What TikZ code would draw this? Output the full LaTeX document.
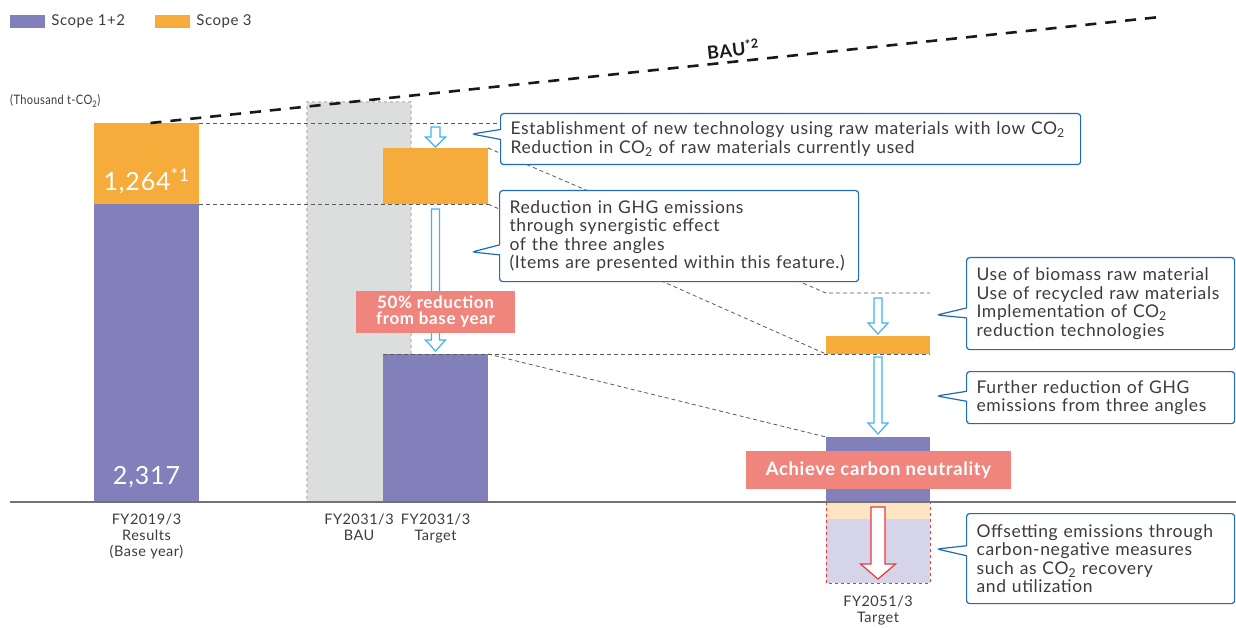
\documentclass[tikz,border=0pt]{standalone}
\usepackage{fontspec}
\setmainfont{Lato}[LetterSpace=3.5]
\usepackage{tikz}
\usetikzlibrary{positioning,calc,shapes.callouts}

\definecolor{scopeA}{RGB}{129,128,187}
\definecolor{scopeB}{RGB}{245,172,59}
\definecolor{baugray}{RGB}{220,221,221}
\definecolor{bauedge}{RGB}{200,201,201}
\definecolor{tagred}{RGB}{240,133,126}
\definecolor{calloutblue}{RGB}{30,107,184}
\definecolor{arrowblue}{RGB}{64,180,236}
\definecolor{offred}{RGB}{232,56,61}
\definecolor{offorange}{RGB}{253,229,195}
\definecolor{offlav}{RGB}{213,212,232}
\definecolor{txtgray}{RGB}{62,58,57}

\newcommand{\cotwo}{CO\textsubscript{2}}
% hollow block arrow pointing down: style, from, to, half shaft, half head, head length
\newcommand{\hollowdown}[6]{%
  \draw[#1] let \p1=(#2), \p2=(#3) in
    (\x1-#4,\y1) -- (\x1+#4,\y1) -- (\x1+#4,\y2+#6) -- (\x1+#5,\y2+#6)
    -- (\x1,\y2) -- (\x1-#5,\y2+#6) -- (\x1-#4,\y2+#6) -- cycle;}

\begin{document}
\begin{tikzpicture}[
        x=1pt,y=-1pt,
        font=\fontsize{17.5}{18.5}\selectfont,
        bar/.style={rectangle,inner sep=0,outer sep=0,minimum width=105pt,minimum height=#1,anchor=north west},
        legbox/.style={rectangle,inner sep=0,minimum width=35pt,minimum height=13pt},
        legtxt/.style={inner sep=0,text=txtgray,font=\fontsize{15}{15}\selectfont},
        guide/.style={draw=black!65,dash pattern=on 4pt off 3pt,line width=0.8pt},
        bauline/.style={line width=2.6pt,dash pattern=on 11pt off 9pt,black!90},
        callout/.style={rectangle callout,draw=calloutblue,fill=white,line width=1.2pt,rounded corners=3pt,
            callout pointer width=10pt,inner xsep=10pt,inner ysep=0pt,align=left,anchor=north west,text=txtgray},
        tag/.style={rectangle,fill=tagred,text=white,align=center,inner sep=0,font=\bfseries\fontsize{17}{16}\selectfont},
        xlabel/.style={inner sep=0,align=center,text=txtgray,font=\fontsize{14.5}{16}\selectfont},
        numtxt/.style={inner sep=0,text=white,font=\fontsize{25}{25}\selectfont},
        bluearrow/.style={draw=arrowblue,fill=white,line width=1.2pt},
        redarrow/.style={draw=offred,fill=white,line width=1.2pt}
    ]
    \useasboundingbox (0,0) rectangle (1236,628);

    % legend
    \node[legbox,fill=scopeA] (legA) at (27.5,21.5) {};
    \node[legtxt,right=6pt of legA] (legAt) {Scope 1+2};
    \node[legbox,fill=scopeB] (legB) at (172.5,21.5) {};
    \node[legtxt,right=6pt of legB] (legBt) {Scope 3};
    \node[anchor=west,inner sep=0,text=txtgray,font=\fontsize{13}{13}\selectfont] (unit) at (10,101)
        {\scalebox{0.85}[1]{(Thousand t-\cotwo)}};

    % bars
    \node[bar=81pt,fill=scopeB] (r19o) at (94,123) {};
    \node[bar=298pt,fill=scopeA] (r19p) at (94,204) {};
    \node[bar=400pt,minimum width=104pt,fill=baugray,draw=bauedge,dashed,line width=1.2pt] (bau) at (307,102) {};
    \node[bar=56pt,fill=scopeB] (t31o) at (383,148) {};
    \node[bar=148pt,fill=scopeA] (t31p) at (383,354) {};
    \node[bar=18pt,minimum width=104pt,fill=scopeB] (t51o) at (826,336) {};
    \node[bar=65pt,minimum width=104pt,fill=scopeA] (t51p) at (826,437) {};
    \node[bar=81pt,minimum width=104pt,fill=offlav] (off) at (826,502) {};
    \fill[offorange] (off.north west) rectangle ([yshift=-17pt]off.north east);
    \draw[offred,dashed,line width=1pt] (off.north west) rectangle (off.south east);

    \draw[black!55,line width=1.2pt] (10,502) -- (1236,502);

    \node[numtxt] (n1264) at ([yshift=-18pt]r19o.center) {1,264\textsuperscript{*1}};
    \node[numtxt] (n2317) at ([yshift=25pt]r19p.south) {2,317};

    % BAU trend
    \coordinate (bauEnd) at (1160,17);
    \draw[bauline] ([xshift=4pt]r19o.north) -- (bauEnd);
    \node[rotate=6,inner sep=0,font=\bfseries\fontsize{18}{18}\selectfont,text=black!90] (baulbl) at (733,49) {BAU\textsuperscript{*2}};

    % guide lines
    \coordinate (lvlA) at (826,293);
    \draw[guide] (r19o.north east) -- (r19o.north east -| 500,0);
    \draw[guide] (r19o.south east) -- (t31o.south east);
    \draw[guide] (t31o.north east) -- (lvlA) -- (t51o.east |- lvlA);
    \draw[guide] (t31o.south east) -- (t51o.south west);
    \draw[guide] (t31p.north west) -- (t51o.south east);
    \draw[guide] (t31p.north east) -- (t51p.north west);

    % reduction arrows
    \coordinate (a1s) at ([yshift=-4pt]t31o.north |- r19o.north);
    \coordinate (a3s) at ([yshift=-5pt]t51o.north |- lvlA);
    \hollowdown{bluearrow}{a1s}{[yshift=1pt]t31o.north}{4.5pt}{10pt}{10pt}
    \hollowdown{bluearrow}{[yshift=-5pt]t31o.south}{[yshift=3pt]t31p.north}{4pt}{10pt}{11pt}
    \hollowdown{bluearrow}{a3s}{[yshift=2pt]t51o.north}{4pt}{10pt}{11pt}
    \hollowdown{bluearrow}{[yshift=-3pt]t51o.south}{[yshift=3pt]t51p.north}{4pt}{10pt}{11pt}
    \hollowdown{redarrow}{[yshift=-5pt]off.north}{[yshift=4pt]off.south}{7pt}{17.5pt}{15pt}

    % tags
    \node[tag,minimum width=159pt,minimum height=42pt] (half) at (435.5,312) {50\% reduction\\from base year};
    \node[tag,minimum width=265pt,minimum height=38pt,font=\bfseries\fontsize{18.5}{18.5}\selectfont] (neutral) at (878.5,470) {Achieve carbon neutrality};

    % callouts
    \node[callout,text width=560pt,minimum height=51pt,callout absolute pointer={(472,134)}] (c1) at (500,113)
        {Establishment of new technology using raw materials with low \cotwo\\Reduction in \cotwo{} of raw materials currently used};
    \node[callout,text width=339pt,minimum height=91pt,callout absolute pointer={(472,252)}] (c2) at (499,190)
        {Reduction in GHG emissions\\through synergistic effect\\of the three angles\\(Items are presented within this feature.)};
    \node[callout,text width=248pt,minimum height=92pt,callout absolute pointer={(937,315)}] (c3) at (966,257)
        {Use of biomass raw material\\Use of recycled raw materials\\Implementation of \cotwo\\reduction technologies};
    \node[callout,text width=248pt,minimum height=52pt,callout absolute pointer={(937,396)}] (c4) at (966,371)
        {Further reduction of GHG\\emissions from three angles};
    \node[callout,text width=248pt,minimum height=90pt,callout absolute pointer={(937,549)}] (c5) at (966,513)
        {Offsetting emissions through\\carbon-negative measures\\such as \cotwo{} recovery\\and utilization};

    % axis labels
    \node[xlabel,below=12pt of r19p] (l19) {FY2019/3\\Results\\(Base year)};
    \node[xlabel,below=12pt of bau] (lbau) {FY2031/3\\BAU};
    \node[xlabel,below=12pt of t31p] (l31) {FY2031/3\\Target};
    \node[xlabel,below=13pt of off] (l51) {FY2051/3\\Target};
\end{tikzpicture}
\end{document}
